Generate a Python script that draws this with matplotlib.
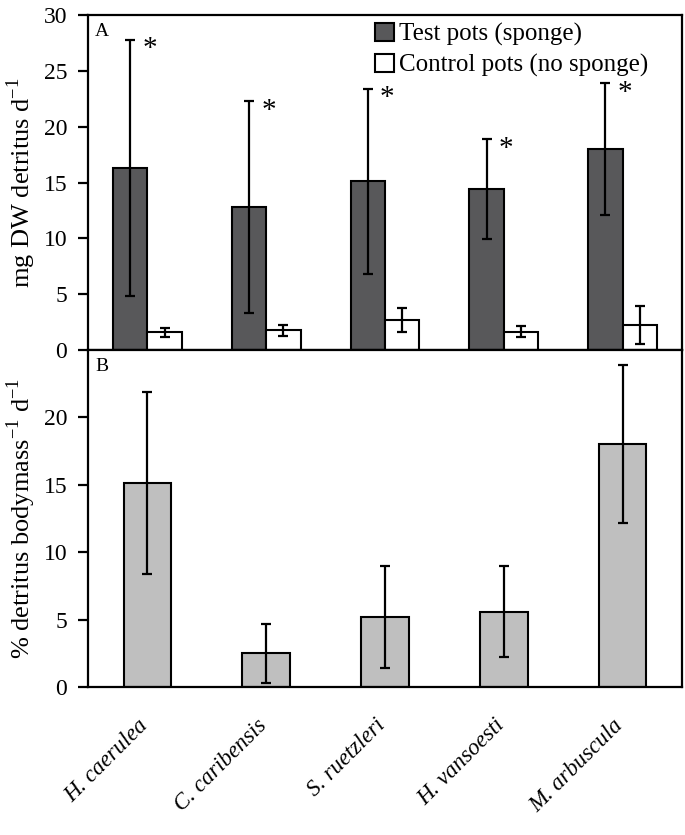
import numpy as np
import matplotlib
matplotlib.use('Agg')
import matplotlib.pyplot as plt
import matplotlib.transforms as mtransforms
from matplotlib.patches import Patch

# Data
species = ['H. caerulea', 'C. caribensis', 'S. ruetzleri', 'H. vansoesti', 'M. arbuscula']
test_mean = [16.3, 12.8, 15.1, 14.4, 18.0]
test_err = [11.5, 9.5, 8.3, 4.5, 5.9]
control_mean = [1.6, 1.75, 2.7, 1.65, 2.25]
control_err = [0.4, 0.5, 1.1, 0.5, 1.7]
bodymass_mean = [15.1, 2.5, 5.2, 5.6, 18.05]
bodymass_err = [6.75, 2.2, 3.8, 3.4, 5.85]

plt.rcParams['font.family'] = ['Liberation Serif', 'DejaVu Serif']
plt.rcParams['mathtext.fontset'] = 'custom'
plt.rcParams['mathtext.rm'] = 'Liberation Serif'

fig = plt.figure(figsize=(6.85, 8.35), dpi=100)
ax1 = fig.add_axes([0.1285, 0.5808, 0.867, 0.4012])
ax2 = fig.add_axes([0.1285, 0.1772, 0.867, 0.4036])

x = np.arange(len(species))
w = 0.29
ekw = dict(elinewidth=1.6, capthick=1.6, ecolor='black')

# Panel A
ax1.bar(x - w / 2, test_mean, w, color='#58585a', edgecolor='black', linewidth=1.5,
        yerr=test_err, capsize=3.5, error_kw=ekw, label='Test pots (sponge)')
ax1.bar(x + w / 2, control_mean, w, color='white', edgecolor='black', linewidth=1.5,
        yerr=control_err, capsize=3.5, error_kw=ekw, label='Control pots (no sponge)')
for xi, m, e in zip(x, test_mean, test_err):
    ax1.text(xi + 0.02, m + e + 0.3, '*', fontsize=21, ha='center', va='top')

ax1.set_ylim(0, 30)
ax1.set_yticks([0, 5, 10, 15, 20, 25, 30])
ax1.set_ylabel('mg DW detritus d$^{\\mathregular{-1}}$', fontsize=19, labelpad=4)
ax1.text(0.012, 0.975, 'A', transform=ax1.transAxes, fontsize=14, va='top', ha='left')
handles = [Patch(facecolor='#58585a', edgecolor='black', linewidth=1.5),
           Patch(facecolor='white', edgecolor='black', linewidth=1.5)]
ax1.legend(handles, ['Test pots (sponge)', 'Control pots (no sponge)'],
           loc='upper right', bbox_to_anchor=(0.972, 1.028), frameon=False, fontsize=18,
           handlelength=0.75, handleheight=0.75, handletextpad=0.2, labelspacing=0.3,
           borderaxespad=0.3)

# Panel B
ax2.bar(x, bodymass_mean, 0.4, color='#bfbfbf', edgecolor='black', linewidth=1.5,
        yerr=bodymass_err, capsize=3.5, error_kw=ekw)
ax2.set_ylim(0, 25)
ax2.set_yticks([0, 5, 10, 15, 20])
ax2.set_ylabel('% detritus bodymass$^{\\mathregular{-1}}$ d$^{\\mathregular{-1}}$', fontsize=19, labelpad=4)
ax2.text(0.012, 0.975, 'B', transform=ax2.transAxes, fontsize=14, va='top', ha='left')

for ax in (ax1, ax2):
    ax.set_xlim(-0.5, 4.5)
    for s in ax.spines.values():
        s.set_linewidth(1.6)
    ax.tick_params(axis='y', direction='out', length=7, width=1.6, labelsize=17, pad=8)
    ax.tick_params(axis='x', length=0)

ax1.set_xticks([])
ax2.set_xticks(x)
ax2.set_xticklabels(species, rotation=45, ha='right', rotation_mode='anchor',
                    fontsize=16.5, style='italic')
ax2.tick_params(axis='x', pad=20)
shift = mtransforms.ScaledTranslation(-10 / 100, 0, fig.dpi_scale_trans)
for lbl in ax2.get_xticklabels():
    lbl.set_transform(lbl.get_transform() + shift)

fig.savefig('out.png', dpi=100)
